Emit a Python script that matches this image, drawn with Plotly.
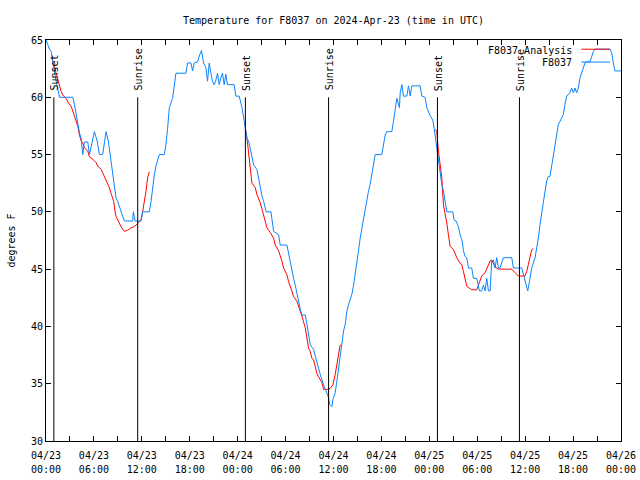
import pandas as pd
import plotly.graph_objects as go

START = pd.Timestamp("2024-04-23 00:00")
END = pd.Timestamp("2024-04-26 00:00")

# Observations (F8037), hours since 04/23 00:00 UTC and degrees F
obs_hours = [0.0, 0.2, 0.44, 0.65, 0.98, 1.27, 1.69, 3.35, 3.56, 3.77, 3.98, 4.19, 4.4, 4.6, 4.8, 5.23,
             5.44, 5.73, 6.06, 6.4, 6.69, 7.1, 7.31, 7.52, 7.8, 8.02, 8.15, 8.35, 8.56, 8.77, 8.98, 9.4,
             9.81, 10.85, 10.94, 11.15, 11.9, 12.1, 12.94, 13.15, 13.35, 13.56, 13.77, 14.19, 14.81, 15.02,
             15.23, 15.44, 15.85, 16.06, 16.27, 17.52, 17.73, 18.15, 18.35, 18.56, 18.98, 19.19, 19.48,
             19.73, 20.02, 20.23, 20.44, 20.65, 20.85, 21.06, 21.27, 21.48, 21.69, 21.9, 22.1, 22.31,
             22.52, 22.73, 23.56, 23.77, 24.19, 24.4, 24.54, 24.83, 24.96, 25.16, 25.37, 25.58, 25.79,
             26.0, 26.41, 26.62, 26.83, 27.04, 27.25, 27.58, 28.17, 28.29, 28.5, 29.13, 29.33, 30.17,
             30.38, 30.58, 30.79, 31.0, 31.21, 31.42, 31.63, 31.84, 32.04, 32.46, 32.67, 32.88, 33.09,
             33.5, 33.71, 33.92, 34.34, 34.76, 34.96, 35.26, 35.38, 35.51, 35.8, 35.92, 36.21, 36.42,
             36.63, 36.84, 36.97, 37.26, 37.47, 37.67, 37.88, 38.3, 38.51, 38.72, 38.93, 39.13, 39.34,
             39.55, 39.76, 39.97, 40.18, 40.38, 40.59, 40.8, 41.01, 41.22, 42.05, 42.26, 42.47, 42.68,
             43.3, 43.51, 43.72, 43.93, 44.26, 44.35, 44.56, 44.76, 45.18, 45.39, 45.6, 45.81, 46.85,
             47.06, 47.47, 47.68, 48.1, 48.43, 48.6, 48.73, 48.85, 48.93, 49.14, 49.35, 49.56, 49.77,
             49.98, 50.19, 50.94, 51.1, 51.35, 51.64, 51.85, 52.06, 52.19, 52.27, 52.48, 52.69, 52.9,
             53.31, 53.52, 53.94, 54.27, 54.56, 54.77, 54.98, 55.19, 55.4, 55.61, 55.81, 56.02, 56.23,
             56.44, 56.65, 56.86, 57.07, 57.27, 58.32, 58.53, 59.57, 59.78, 59.98, 60.19, 60.32, 60.53,
             60.82, 61.24, 61.44, 61.65, 61.86, 62.07, 62.28, 62.49, 62.7, 62.9, 63.11, 63.32, 63.53,
             63.74, 63.95, 64.15, 64.36, 64.57, 64.78, 64.99, 65.2, 65.61, 65.82, 66.03, 66.24, 66.45,
             66.66, 66.87, 67.07, 67.28, 67.49, 67.7, 68.12, 68.54, 68.74, 70.62, 70.83, 71.04, 71.24, 72.0]
obs_temp = [65.0, 64.6, 64.2, 64.0, 62.6, 61.4, 60.0, 60.0, 59.4, 58.5, 57.6, 56.9, 56.4, 55.0, 56.1, 56.1,
            55.0, 56.0, 57.0, 56.2, 55.0, 55.0, 55.9, 57.0, 56.2, 55.1, 54.1, 53.0, 52.1, 51.2, 50.9, 50.0,
            49.2, 49.2, 50.0, 49.2, 49.2, 50.0, 50.0, 50.9, 52.1, 53.2, 54.0, 55.0, 55.0, 55.9,
            57.3, 59.1, 59.9, 61.1, 62.1, 62.1, 63.0, 63.0, 62.3, 63.0, 63.1, 63.6, 64.1,
            63.0, 62.6, 61.4, 63.0, 62.1, 61.4, 61.1, 61.5, 62.1, 61.1, 61.7, 62.1, 61.1,
            62.0, 61.1, 61.1, 60.1, 60.1, 59.5, 59.1, 57.9, 57.2, 56.4, 56.2, 55.6, 54.8,
            54.1, 53.7, 52.95, 52.1, 51.4, 50.9, 50.0, 50.0, 49.2, 48.3, 48.0, 47.1, 47.1,
            46.3, 45.7, 45.1, 44.2, 43.6, 42.8, 42.0, 41.5, 41.0, 41.0, 40.2, 39.3, 38.4,
            38.0, 37.4, 37.0, 35.8, 34.9, 34.5, 34.0, 33.8, 33.2, 33.0, 33.6, 34.2, 35.2,
            36.4, 37.5, 38.4, 39.6, 40.2, 41.3, 41.9, 42.8, 43.6, 44.5, 45.4, 46.6, 47.7,
            48.6, 49.5, 50.2, 50.9, 51.8, 52.4, 53.2, 54.1, 55.0, 55.0, 55.9, 56.7, 57.0,
            57.0, 57.9, 59.1, 59.9, 59.1, 60.4, 61.1, 60.1, 60.1, 61.0, 60.1, 61.0, 61.0,
            60.1, 60.0, 59.1, 58.4, 58.0, 57.3, 56.6, 56.2, 55.5, 54.4, 53.2, 52.4, 51.8,
            50.9, 50.0, 50.0, 49.3, 49.2, 48.7, 48.0, 47.6, 47.1, 46.6, 46.1, 46.0, 45.1,
            45.1, 44.2, 44.2, 43.1, 43.1, 43.6, 43.1, 44.2, 43.1, 43.1, 45.7, 45.8, 45.1,
            46.0, 45.1, 45.1, 45.5, 46.0, 46.0, 45.1, 45.1, 44.5, 43.9, 43.5, 43.1, 43.9,
            45.1, 46.0, 46.8, 47.7, 48.9, 50.0, 50.9, 51.8, 52.7, 53.1, 53.1, 54.1, 55.0,
            55.9, 56.7, 57.6, 57.9, 58.2, 58.5, 59.4, 60.1, 60.4, 60.8, 60.4, 60.8, 60.4,
            60.8, 61.7, 62.1, 62.4, 63.0, 63.1, 63.1, 64.0, 64.2, 64.2, 63.9, 63.0, 62.3, 62.3]

# Analysis (F8037 Analysis), one run per night
ana1_hours = [0.98, 1.27, 1.56, 1.9, 2.1, 2.52, 2.81, 3.15, 3.35, 3.56, 3.77, 3.98, 4.19, 4.4, 4.6, 4.81,
              5.23, 5.44, 5.85, 6.27, 6.48, 6.9, 7.1, 7.31, 7.52, 7.73, 7.94, 8.15, 8.35, 8.48, 8.65,
              8.77, 8.98, 9.19, 9.4, 9.81, 10.23, 10.65, 11.06, 11.48, 11.9, 12.1, 12.31, 12.52, 12.73, 12.94]
ana1_temp = [62.8, 62.0, 61.4, 60.5, 60.2, 59.9, 59.5, 59.2, 58.8, 58.3, 57.8, 57.5, 56.7, 56.2, 56.0, 55.6,
             55.3, 54.8, 54.6, 54.3, 54.0, 53.7, 53.4, 53.1, 52.7, 52.4, 52.1, 51.6, 51.2, 50.9, 50.0,
             49.6, 49.3, 49.0, 48.7, 48.3, 48.4, 48.6, 48.7, 49.0, 49.3, 50.0, 50.8, 51.8, 53.0, 53.5]
ana2_hours = [24.96, 25.08, 25.25, 25.37, 25.58, 25.79, 26.21, 26.41, 26.83, 27.04, 27.25, 27.46, 27.67,
              28.08, 28.5, 28.71, 29.13, 29.54, 29.75, 30.17, 30.38, 30.79, 31.0, 31.42, 31.63, 31.84,
              32.04, 32.25, 32.46, 32.67, 32.88, 33.09, 33.3, 33.5, 33.71, 33.92, 34.13, 34.34, 34.55,
              34.76, 35.17, 35.59, 35.92, 36.21, 36.42, 36.63, 36.84]
ana2_temp = [57.2, 56.9, 55.9, 55.0, 53.8, 52.5, 52.1, 51.5, 50.8, 50.3, 49.8, 49.2, 48.6,
             48.2, 47.7, 47.1, 46.6, 45.7, 45.1, 44.5, 43.9, 43.1, 42.6, 42.2, 41.8, 41.3,
             40.9, 40.4, 39.9, 39.0, 38.1, 37.8, 37.2, 37.1, 36.4, 35.9, 35.6, 35.4, 35.1,
             34.5, 34.5, 34.6, 34.9, 35.8, 36.7, 37.5, 38.4]
ana3_hours = [48.73, 48.93, 49.14, 49.35, 49.56, 49.77, 49.98, 50.19, 50.39, 50.6, 51.02, 51.44, 51.85,
              52.06, 52.27, 52.48, 52.69, 52.9, 53.31, 53.94, 54.15, 54.36, 54.56, 54.98, 55.19, 55.4,
              55.61, 55.81, 56.23, 56.65, 58.32, 58.73, 59.15, 59.98, 60.19, 60.4, 60.61, 60.82, 61.03]
ana3_temp = [57.2, 57.0, 55.3, 54.1, 53.0, 50.6, 49.9, 49.0, 48.0, 47.0, 46.7, 46.0, 45.5,
             45.4, 44.8, 44.2, 43.5, 43.4, 43.2, 43.2, 43.6, 43.9, 44.4, 44.7, 45.0, 45.4,
             45.7, 45.8, 45.2, 45.0, 45.0, 44.7, 44.4, 44.4, 44.8, 45.4, 46.1, 46.7, 46.8]

sunset_times = ["2024-04-23 00:59", "2024-04-24 00:58", "2024-04-25 01:01"]
sunrise_times = ["2024-04-23 11:29", "2024-04-24 11:23", "2024-04-25 11:17"]
marker_top = 60
marker_label_y = 60.4

y_ticks = [30, 35, 40, 45, 50, 55, 60, 65]
title_text = "Temperature for F8037 on 2024-Apr-23 (time in UTC)"
legend_names = ["F8037 Analysis", "F8037"]

RED = "#ff0000"
BLUE = "#0a84ff"
FONT = "DejaVu Sans Mono"


def to_time(hours):
    return [START + pd.Timedelta(hours=h) for h in hours]


fig = go.Figure()

for hrs, tmp in [(ana1_hours, ana1_temp), (ana2_hours, ana2_temp), (ana3_hours, ana3_temp)]:
    fig.add_trace(go.Scatter(x=to_time(hrs), y=tmp, mode="lines",
                             line=dict(color=RED, width=1), showlegend=False, hoverinfo="skip"))

fig.add_trace(go.Scatter(x=to_time(obs_hours), y=obs_temp, mode="lines",
                         line=dict(color=BLUE, width=1), showlegend=False, hoverinfo="skip"))

# helper trace for the second (hour) label axis
fig.add_trace(go.Scatter(x=[START, END], y=[None, None], xaxis="x2", mode="lines",
                         showlegend=False, hoverinfo="skip"))

shapes = []
annotations = []
for lbl, times in [("Sunset", sunset_times), ("Sunrise", sunrise_times)]:
    for t in times:
        shapes.append(dict(type="line", xref="x", yref="y", x0=t, x1=t, y0=marker_top, y1=30,
                           line=dict(color="black", width=1)))
        annotations.append(dict(text=lbl, x=t, y=marker_label_y, xref="x", yref="y",
                                textangle=-90, xanchor="center", yanchor="bottom", xshift=1,
                                showarrow=False, font=dict(family=FONT, size=10, color="black")))

# gnuplot-style legend: text on the left, sample line on the right
legend_rows = [(legend_names[0], RED, 0.975), (legend_names[1], BLUE, 0.943)]
for name, col, yp in legend_rows:
    annotations.append(dict(text=name, x=0.918, y=yp, xref="paper", yref="paper",
                            xanchor="right", yanchor="middle", showarrow=False,
                            font=dict(family=FONT, size=10, color="black")))
    shapes.append(dict(type="line", xref="paper", yref="paper", x0=0.931, x1=0.981, y0=yp + 0.002,
                       y1=yp + 0.002, line=dict(color=col, width=1)))

fig.update_layout(
    width=640, height=480,
    margin=dict(l=46, r=19, t=40, b=39),
    paper_bgcolor="white", plot_bgcolor="white",
    font=dict(family=FONT, size=10, color="black"),
    title=dict(text=title_text, x=0.5, xref="paper", y=1 - 20 / 480, yref="container",
               xanchor="center", yanchor="middle", font=dict(family=FONT, size=10)),
    shapes=shapes, annotations=annotations,
    showlegend=False,
    xaxis=dict(type="date", range=[START, END], tick0=START, dtick=6 * 3600 * 1000,
               tickformat="%m/%d", ticks="inside", ticklen=5, tickcolor="black",
               showline=True, linecolor="black", linewidth=1, mirror="ticks",
               showgrid=False, zeroline=False, tickfont=dict(family=FONT, size=10),
               automargin=False, ticklabelstandoff=5,
               minor=dict(dtick=3 * 3600 * 1000, ticks="inside", ticklen=5, tickcolor="black",
                          showgrid=False)),
    xaxis2=dict(type="date", range=[START, END], tick0=START, dtick=6 * 3600 * 1000,
                tickformat="%H:%M", overlaying="x", anchor="y", side="bottom",
                ticks="", showline=False, showgrid=False, zeroline=False, automargin=False,
                ticklabelstandoff=21, tickfont=dict(family=FONT, size=10)),
    yaxis=dict(range=[30, 65], tickvals=y_ticks, ticks="inside", ticklen=5, tickcolor="black",
               showline=True, linecolor="black", linewidth=1, mirror="ticks", automargin=False,
               showgrid=False, zeroline=False, tickfont=dict(family=FONT, size=10),
               title=dict(text="degrees F", font=dict(family=FONT, size=10), standoff=13)),
)

fig.write_html("out.html")
